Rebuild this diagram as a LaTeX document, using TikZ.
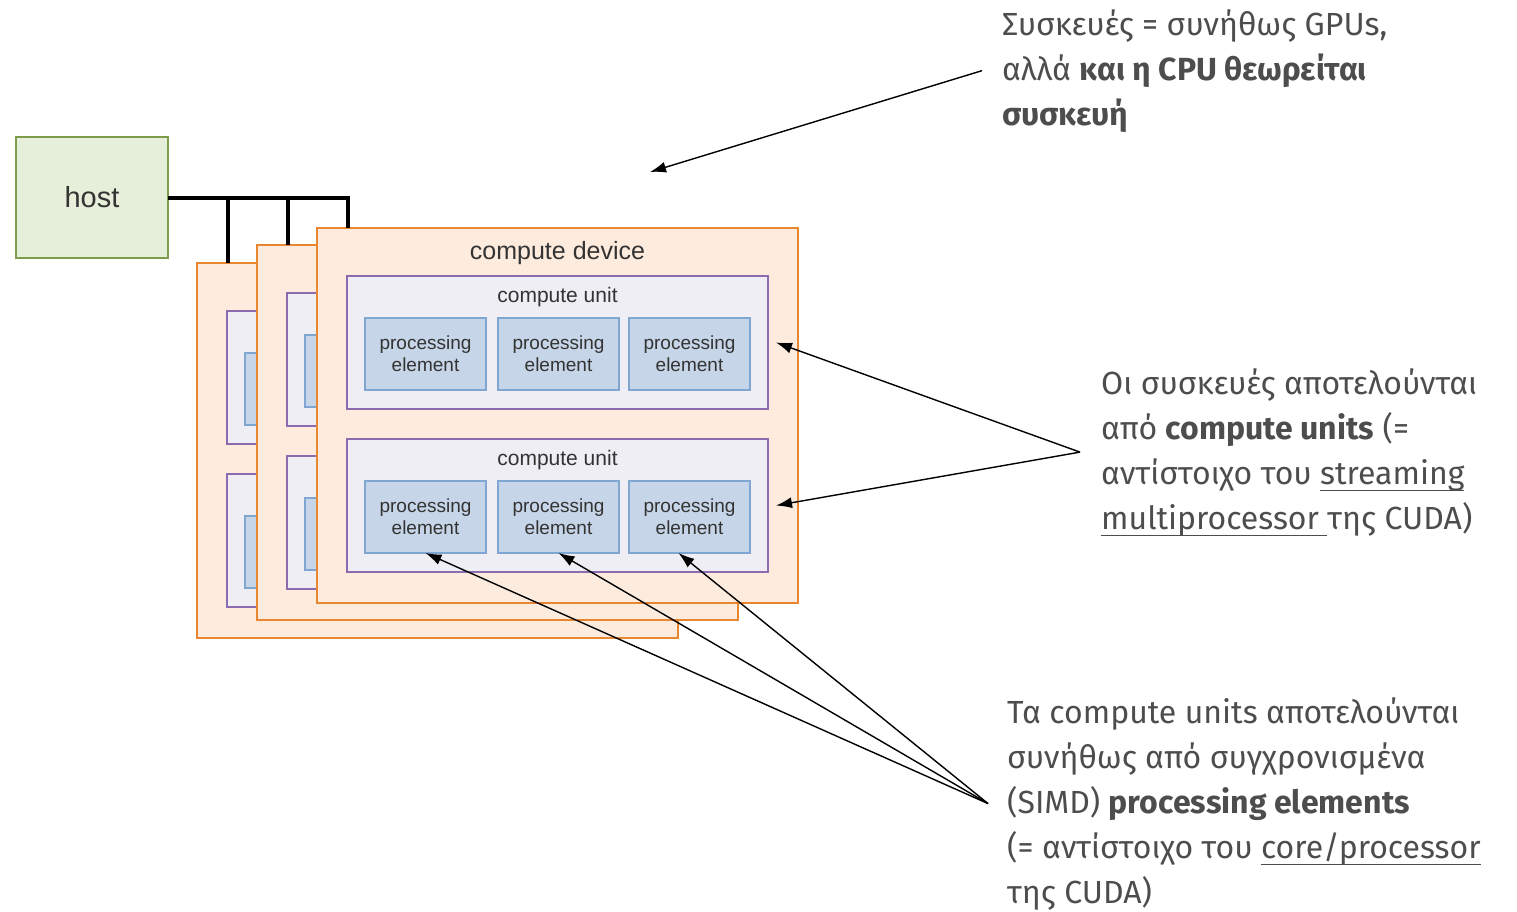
\documentclass[tikz,border=0pt]{standalone}
\usepackage{fontspec}
\setmainfont{Liberation Sans}
\newfontfamily\notefont{Fira Sans}
\usetikzlibrary{arrows.meta,positioning}
\newcommand\ulword[1]{\leavevmode\setbox0\hbox{#1}\rlap{\raisebox{-7pt}{\rule{\wd0}{1.5pt}}}\box0}

\definecolor{devfill}{HTML}{FDEBDD}
\definecolor{devline}{HTML}{E8872F}
\definecolor{cufill}{HTML}{EFEEF4}
\definecolor{culine}{HTML}{8C6BB1}
\definecolor{pefill}{HTML}{C6D5E7}
\definecolor{peline}{HTML}{7EA6D0}
\definecolor{hostfill}{HTML}{E6EFD9}
\definecolor{hostline}{HTML}{7E9D4C}
\definecolor{notegray}{HTML}{4D4D4D}
\definecolor{labelgray}{HTML}{333333}

\begin{document}
\begin{tikzpicture}[
		x=1pt, y=-1pt,
		box/.style={draw, anchor=north west, inner sep=0pt, outer sep=0pt},
		hostbox/.style={box, fill=hostfill, draw=hostline, line width=2.5pt, minimum width=152pt, minimum height=121pt, text=labelgray, font=\fontsize{29}{32}\selectfont},
		device/.style={box, fill=devfill, draw=devline, line width=2.5pt, minimum width=481pt, minimum height=375pt},
		unit/.style={box, fill=cufill, draw=culine, line width=2.2pt, minimum width=421pt, minimum height=133pt},
		element/.style={box, fill=pefill, draw=peline, line width=1.5pt, minimum width=121pt, minimum height=72pt, align=center, text=labelgray, font=\fontsize{19}{22}\selectfont},
		devlabel/.style={text=labelgray, inner sep=0pt, font=\fontsize{25}{30}\selectfont},
		unitlabel/.style={text=labelgray, inner sep=0pt, font=\fontsize{21}{25}\selectfont},
		note/.style={anchor=north west, align=left, inner sep=0pt, text=notegray, font=\notefont\fontsize{32}{45}\selectfont},
		bus/.style={line width=4pt},
		pointer/.style={-{Latex[length=16pt,width=11pt]}, line width=1.4pt},
	]
		\useasboundingbox (0,0) rectangle (1517,911);

		\node (host) [hostbox] at (16,137) {host};

		% three compute devices, back to front; only the front one shows its labels
		\foreach \i/\dx/\dy in {1/197/263, 2/257/245, 3/317/228} {
			\node (dev-\i) [device] at (\dx,\dy) {};
			\coordinate (drop-\i) at ({\dx+31},\dy);
			\foreach \j/\uy in {1/48, 2/211} {
				\node (cu-\i-\j) [unit] at ({\dx+30},{\dy+\uy}) {};
				\foreach \k/\px in {1/48, 2/181, 3/312}
					\node (pe-\i-\j-\k) [element] at ({\dx+\px},{\dy+\uy+42}) {};
			}
		}
		\node [devlabel] at ([yshift=-25pt]dev-3.north) {compute device};
		\foreach \j in {1,2} {
			\node [unitlabel] at ([yshift=-21pt]cu-3-\j.north) {compute unit};
			\foreach \k in {1,2,3}
				\node [element, draw=none, fill=none, anchor=center] at (pe-3-\j-\k) {processing\\element};
		}

		\draw[bus] (host.east) -| (drop-3);
		\draw[bus] (drop-1) -- (drop-1 |- host.east);
		\draw[bus] (drop-2) -- (drop-2 |- host.east);

		% notes
		\node (note-top) [note] at (1002,9) {Συσκευές = συνήθως GPUs,\\αλλά \textbf{και η CPU θεωρείται}\\\textbf{συσκευή}};
		\node (note-mid) [note] at (1101,368) {Οι συσκευές αποτελούνται\\από \textbf{compute units} (=\\αντίστοιχο του \ulword{streaming}\\\ulword{multiprocessor\ }της CUDA)};
		\node (note-bot) [note] at (1007,697) {Τα compute units αποτελούνται\\συνήθως από συγχρονισμένα\\(SIMD) \textbf{processing elements}\\(= αντίστοιχο του \ulword{core/processor}\\της CUDA)};

		\coordinate (dev-hint) at (650,172);
		\draw[pointer] ([xshift=-20pt]note-top.west) -- (dev-hint);
		\draw[pointer] ([xshift=-21pt]note-mid.west) -- ([xshift=8pt]cu-3-1.east);
		\draw[pointer] ([xshift=-21pt]note-mid.west) -- ([xshift=8pt]cu-3-2.east);
		\draw[pointer] ([xshift=-19pt]note-bot.west) -- (pe-3-2-1.south);
		\draw[pointer] ([xshift=-19pt]note-bot.west) -- (pe-3-2-2.south);
		\draw[pointer] ([xshift=-19pt]note-bot.west) -- ([xshift=-11pt]pe-3-2-3.south);
	\end{tikzpicture}
\end{document}
